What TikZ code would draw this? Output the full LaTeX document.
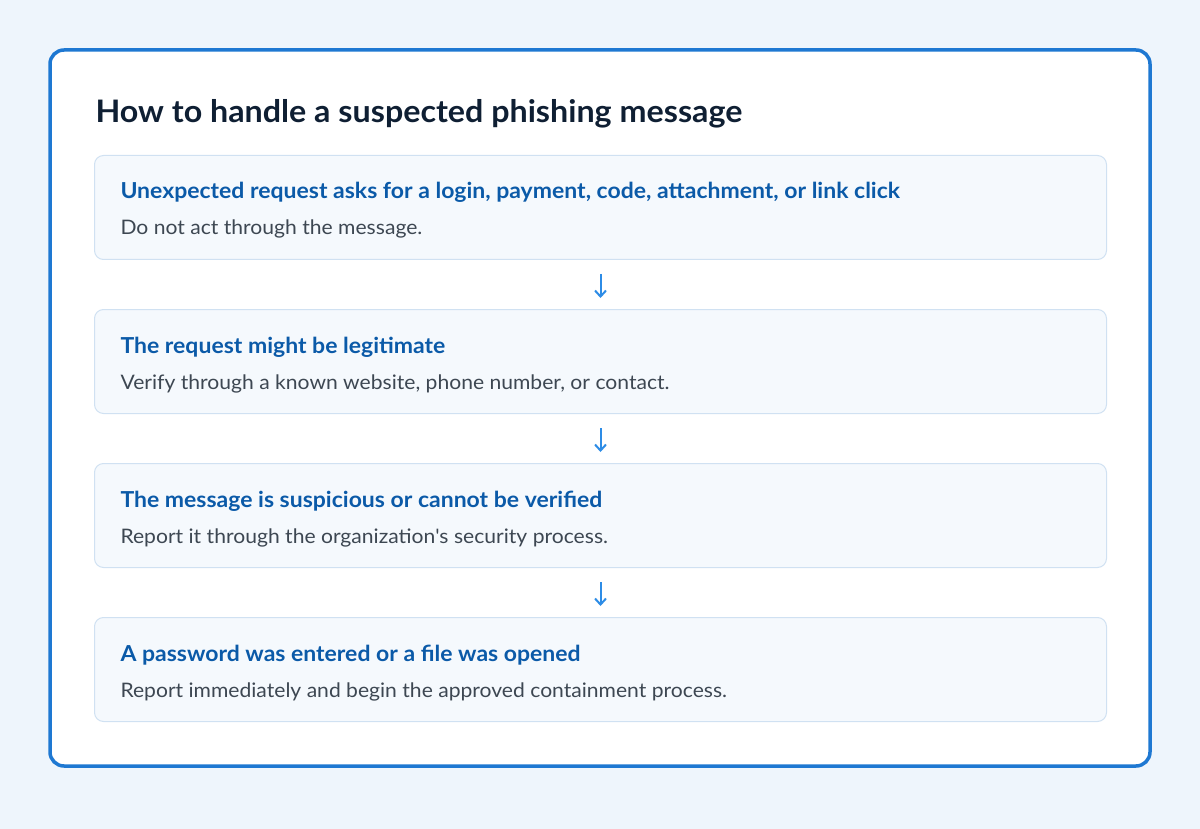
\documentclass[tikz,border=0pt]{standalone}
\usepackage{fontspec}
\setmainfont{Lato}
\newfontfamily\fa{Lato}[FakeStretch=1.04]
\newfontfamily\fb{Lato}[FakeStretch=1.045]
\newfontfamily\fc{Lato}[FakeStretch=1.055]
\usetikzlibrary{arrows.meta,calc}
\definecolor{bg}{HTML}{EEF5FC}
\definecolor{frame}{HTML}{1E78D2}
\definecolor{boxfill}{HTML}{F5F9FD}
\definecolor{boxline}{HTML}{D0E1F2}
\definecolor{head}{HTML}{0B5AA8}
\definecolor{sub}{HTML}{3D4752}
\definecolor{ttl}{HTML}{0F1F33}
\definecolor{arr}{HTML}{2D8CE6}
\begin{document}
\begin{tikzpicture}[x=1pt,y=-1pt,
  stepbox/.style={draw=boxline,fill=boxfill,rounded corners=9pt,line width=1pt,minimum width=1012pt,minimum height=104pt,inner sep=0pt},
  hd/.style={anchor=base west,font=\fb\fontsize{22}{24}\selectfont\bfseries,text=head},
  sb/.style={anchor=base west,font=\fc\fontsize{20}{22}\selectfont,text=sub},
  ar/.style={draw=arr,line width=2pt,-{Straight Barb[length=6pt,width=11pt]}}]
\fill[bg] (0,0) rectangle (1200,829);
\draw[frame,line width=3.5pt,fill=white,rounded corners=14pt] (50,50) rectangle (1150,766);
\node[anchor=base west,font=\fa\fontsize{31}{34}\selectfont\bfseries,text=ttl] (t) at (92,123) {How to handle a suspected phishing message};
\foreach \i/\y/\h/\s in {
 1/155/{Unexpected request asks for a login, payment, code, attachment, or link click}/{Do not act through the message.},
 2/309/{The request might be legitimate}/{Verify through a known website, phone number, or contact.},
 3/463/{The message is suspicious or cannot be verified}/{Report it through the organization\textquotesingle s security process.},
 4/617/{A password was entered or a file was opened}/{Report immediately and begin the approved containment process.}}{
  \node[stepbox,anchor=north west] (b\i) at (94,\y) {};
  \node[hd] (h\i) at (117,\y+44) {\h};
  \node[sb] (s\i) at (117,\y+80) {\s};
}
\foreach \a/\b in {1/2,2/3,3/4}{
  \draw[ar] ($(b\a.south)+(0,14)$) coordinate (p\a) -- ($(b\b.north)+(0,-11)$) coordinate (q\a);
}
\end{tikzpicture}
\end{document}
